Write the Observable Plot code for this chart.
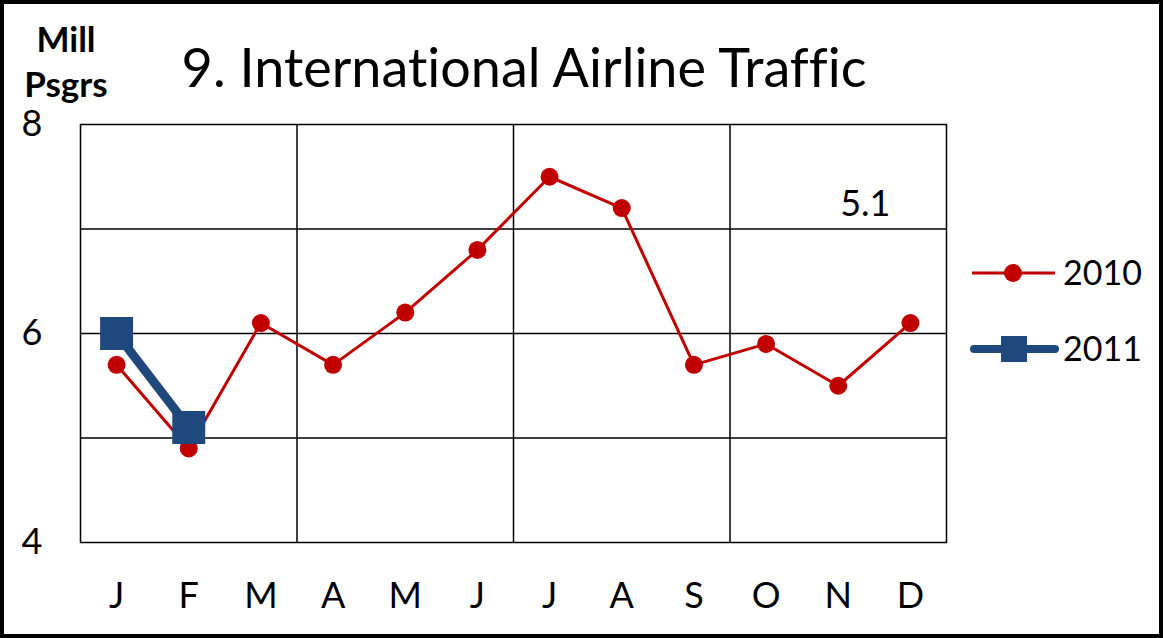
<!DOCTYPE html>
<html><head><meta charset="utf-8">
<script src="https://cdn.jsdelivr.net/npm/d3@7"></script>
<script src="https://cdn.jsdelivr.net/npm/@observablehq/plot@0.6"></script>
<style>
body{margin:0;background:#fff;}
#wrap{position:relative;width:1163px;height:638px;font-family:Lato,"Open Sans",sans-serif;overflow:hidden;}
#chart{position:absolute;left:0;top:0;}
#overlay{position:absolute;left:0;top:0;pointer-events:none;}
#border{position:absolute;left:0;top:0;width:1163px;height:638px;box-sizing:border-box;border:4px solid #000;pointer-events:none;}
svg text{font-variant-ligatures:none;}
</style>
</head><body>
<div id="wrap"><div id="chart"></div>
<svg id="overlay" width="1163" height="638" font-family="Lato, 'Open Sans', sans-serif">
  <text id="title" x="524" y="87" text-anchor="middle" font-size="54" fill="#000"></text>
  <text id="unit1" x="66" y="52" text-anchor="middle" font-size="35" font-weight="bold" fill="#000"></text>
  <text id="unit2" x="66" y="97" text-anchor="middle" font-size="35" font-weight="bold" fill="#000"></text>
  <g id="legend"></g>
</svg>
<div id="border"></div></div>
<script>
const months = ["J","F","M","A","M","J","J","A","S","O","N","D"];
const values2010 = [5.7, 4.9, 6.1, 5.7, 6.2, 6.8, 7.5, 7.2, 5.7, 5.9, 5.5, 6.1];
const values2011 = [6.0, 5.1];
const yTicks = [4, 6, 8];
const yGrid = [5, 6, 7];
const quarterBreaks = [2.5, 5.5, 8.5];
const seriesNames = ["2010", "2011"];
const titleText = "9. International Airline Traffic";
const unitLines = ["Mill", "Psgrs"];

const red = "#C00000", blue = "#1F497D";
const d2010 = values2010.map((v, i) => ({i, v}));
const d2011 = values2011.map((v, i) => ({i, v}));
const lastLabel = values2011[values2011.length - 1].toFixed(1);

const chart = Plot.plot({
  width: 1163, height: 638,
  marginLeft: 80, marginRight: 217, marginTop: 124, marginBottom: 96,
  x: {type: "linear", domain: [-0.5, 11.5]},
  y: {domain: [4, 8]},
  style: {fontFamily: "Lato, 'Open Sans', sans-serif", fontSize: "36px", color: "#000", background: "transparent"},
  marks: [
    Plot.ruleY(yGrid, {stroke: "#000", strokeWidth: 1.5}),
    Plot.ruleX(quarterBreaks, {stroke: "#000", strokeWidth: 1.5}),
    Plot.frame({stroke: "#000", strokeWidth: 1.5}),
    Plot.axisX({ticks: d3.range(months.length), tickFormat: i => months[i], tickSize: 0, tickPadding: 40, label: null, fontSize: 36}),
    Plot.axisY({ticks: yTicks, tickFormat: d3.format("d"), tickSize: 0, tickPadding: 38, label: null, fontSize: 36}),
    Plot.line(d2010, {x: "i", y: "v", stroke: red, strokeWidth: 3}),
    Plot.dot(d2010, {x: "i", y: "v", r: 9, fill: red, stroke: "none"}),
    Plot.line(d2011, {x: "i", y: "v", stroke: blue, strokeWidth: 9}),
    Plot.dot(d2011, {x: "i", y: "v", symbol: "square", r: 18.6, fill: blue, stroke: "none"}),
    Plot.text([lastLabel], {frameAnchor: "top-right", dx: -56, dy: 66, textAnchor: "end", fontSize: 36, fill: "#000"})
  ]
});
document.getElementById("chart").appendChild(chart);

document.getElementById("title").textContent = titleText;
document.getElementById("unit1").textContent = unitLines[0];
document.getElementById("unit2").textContent = unitLines[1];

const lg = d3.select("#legend");
const g1 = lg.append("g");
g1.append("line").attr("x1", 972).attr("x2", 1055).attr("y1", 273).attr("y2", 273).attr("stroke", red).attr("stroke-width", 3);
g1.append("circle").attr("cx", 1013).attr("cy", 273).attr("r", 9).attr("fill", red);
g1.append("text").attr("x", 1063).attr("y", 285).attr("font-size", 34).text(seriesNames[0]);
const g2 = lg.append("g");
g2.append("line").attr("x1", 974).attr("x2", 1055).attr("y1", 349).attr("y2", 349).attr("stroke", blue).attr("stroke-width", 8).attr("stroke-linecap", "round");
g2.append("rect").attr("x", 1001).attr("y", 336).attr("width", 26).attr("height", 26).attr("fill", blue);
g2.append("text").attr("x", 1063).attr("y", 361).attr("font-size", 34).text(seriesNames[1]);
</script>
</body></html>
